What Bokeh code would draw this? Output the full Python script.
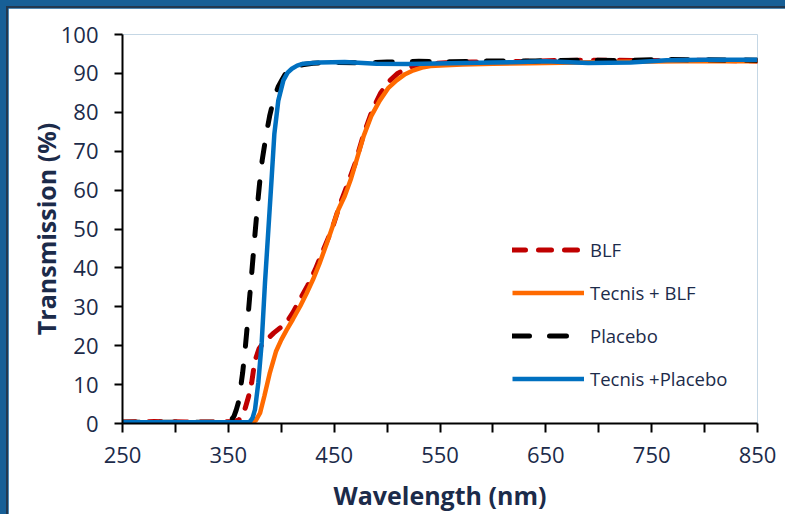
from bokeh.plotting import figure
from bokeh.layouts import column
from bokeh.models import FixedTicker, Legend, LegendItem, Range1d
from bokeh.embed import file_html
from bokeh.resources import INLINE

# ---- data ----
blf_wl = [250, 280, 310, 340, 355, 360, 363, 366, 369, 372, 375, 379, 383, 388, 393, 399, 405, 411,
          418, 425, 432, 440, 448, 455, 462, 470, 478, 486, 494, 502, 510, 518, 526, 535, 545, 560,
          580, 600, 630, 660, 700, 740, 780, 820, 850]
blf_t = [0.4, 0.5, 0.4, 0.4, 0.5, 0.9, 2.2, 4.0, 6.8, 10.4, 16.0, 19.2, 20.7, 22.0, 23.3, 24.6, 26.0, 28.5,
         32.0, 35.5, 39.5, 44.8, 50.0, 56.0, 61.0, 67.0, 74.5, 80.5, 85.0, 88.0, 90.0, 91.2, 92.0, 92.4, 92.6, 92.8,
         92.9, 93.0, 93.1, 93.3, 93.4, 93.3, 93.4, 93.3, 93.2]

tblf_wl = [250, 300, 350, 372, 376, 380, 384, 389, 395, 400, 405, 411, 418, 424, 430, 436, 443, 449,
           454, 460, 466, 472, 478, 485, 493, 501, 509, 517, 525, 533, 541, 555, 571, 600, 634, 680,
           720, 780, 850]
tblf_t = [0.3, 0.3, 0.3, 0.3, 0.8, 2.7, 7.0, 12.8, 18.5, 21.5, 24.0, 26.8, 30.2, 33.5, 37.0, 41.0, 46.3, 51.0,
          55.0, 58.5, 63.0, 68.5, 74.0, 79.0, 83.0, 86.2, 88.2, 89.8, 90.8, 91.5, 91.9, 92.1, 92.3, 92.5, 92.6, 92.8,
          93.0, 93.1, 93.1]

plc_wl = [250, 300, 340, 350, 353, 355.4, 357.5, 359.4, 361.5, 363.5, 365.5, 367.3, 370, 372.6, 375.5,
          378.3, 380, 382, 386, 389, 392.5, 397, 401, 406, 412, 420, 430, 450, 480, 500, 530, 560, 600,
          640, 680, 720, 760, 800, 850]
plc_t = [0.3, 0.3, 0.3, 0.5, 1.0, 1.9, 3.5, 5.3, 9.0, 13.0, 18.0, 23.3, 32.0, 40.3, 49.7,
         58.3, 63.0, 67.7, 74.6, 79.0, 83.0, 86.5, 88.5, 90.8, 91.7, 92.2, 92.6, 92.8, 92.7, 92.9, 93.1, 93.0, 93.2,
         93.2, 93.4, 93.3, 93.6, 93.5, 93.4]

tplc_wl = [250, 300, 350, 368, 370.5, 373, 375.2, 378.3, 381.5, 384.6, 387.8, 391, 393.5, 397.2, 402,
           406, 410, 415, 420.8, 436, 460, 490, 520, 560, 600, 625, 650, 690, 730, 764, 800, 850]
tplc_t = [0.3, 0.3, 0.3, 0.3, 0.5, 1.5, 3.6, 10.4, 20.7, 36.0, 49.7, 63.4, 74.5, 83.0, 88.2,
          90.2, 91.2, 92.0, 92.5, 92.8, 92.9, 92.5, 92.4, 92.6, 92.8, 92.9, 93.1, 92.7, 92.8, 93.4, 93.5, 93.5]

x_major = [250, 350, 450, 550, 650, 750, 850]
x_minor = [300, 400, 500, 600, 700, 800]
y_ticks = [0, 10, 20, 30, 40, 50, 60, 70, 80, 90, 100]

names = ["BLF", "Tecnis + BLF", "Placebo", "Tecnis +Placebo"]

TXT = "#1C2B4A"
FONT = "Open Sans"

p = figure(width=777, height=506, output_backend="svg", toolbar_location=None,
           x_range=Range1d(250, 850), y_range=Range1d(0, 100),
           min_border_left=114, min_border_right=28, min_border_top=26, min_border_bottom=90,
           border_fill_color="white", background_fill_color="white",
           styles={"box-shadow": "-1px -1px 0 1px #22384F"})
p.outline_line_color = None
p.grid.visible = False

r1 = p.line(blf_wl, blf_t, line_color="#C00000", line_width=5, line_dash="13 13", line_cap="round")
r2 = p.line(tblf_wl, tblf_t, line_color="#FF6A00", line_width=4.5)
r3 = p.line(plc_wl, plc_t, line_color="black", line_width=5, line_dash="17 20", line_cap="round")
r4 = p.line(tplc_wl, tplc_t, line_color="#0070C0", line_width=4.5)

for ax in (p.xaxis[0], p.yaxis[0]):
    ax.axis_line_color = "black"
    ax.axis_line_width = 2
    ax.major_tick_line_color = "black"
    ax.major_tick_line_width = 2
    ax.minor_tick_line_color = "black"
    ax.minor_tick_line_width = 2
    ax.major_tick_in = 0
    ax.minor_tick_in = 0
    ax.major_label_text_font = FONT
    ax.major_label_text_font_size = "22px"
    ax.major_label_text_color = TXT
    ax.axis_label_text_font = FONT
    ax.axis_label_text_font_size = "25px"
    ax.axis_label_text_font_style = "bold"
    ax.axis_label_text_color = TXT

p.xaxis.ticker = FixedTicker(ticks=x_major, minor_ticks=x_minor)
p.xaxis.major_tick_out = 9
p.xaxis.minor_tick_out = 9
p.xaxis.major_label_standoff = 14
p.xaxis.axis_label = "Wavelength (nm)"
p.xaxis.axis_label_standoff = 12

p.yaxis.ticker = FixedTicker(ticks=y_ticks, minor_ticks=[])
p.yaxis.major_tick_out = 8
p.yaxis.minor_tick_out = 0
p.yaxis.major_label_standoff = 16
p.yaxis.axis_label = "Transmission (%)"
p.yaxis.axis_label_standoff = -5

legend = Legend(items=[LegendItem(label=n, renderers=[r]) for n, r in zip(names, [r1, r2, r3, r4])],
                location=(390, 32), padding=0, margin=0, spacing=18,
                glyph_width=72, glyph_height=25, label_height=25, label_standoff=6,
                label_text_font=FONT, label_text_font_size="18.5px", label_text_color=TXT,
                background_fill_alpha=0, border_line_alpha=0)
p.add_layout(legend)

page = column(p, width=785, height=514,
              styles={"background-color": "#175F96", "padding-left": "8px", "padding-top": "8px",
                      "box-sizing": "border-box"})

open("out.html", "w").write(file_html(page, INLINE))
